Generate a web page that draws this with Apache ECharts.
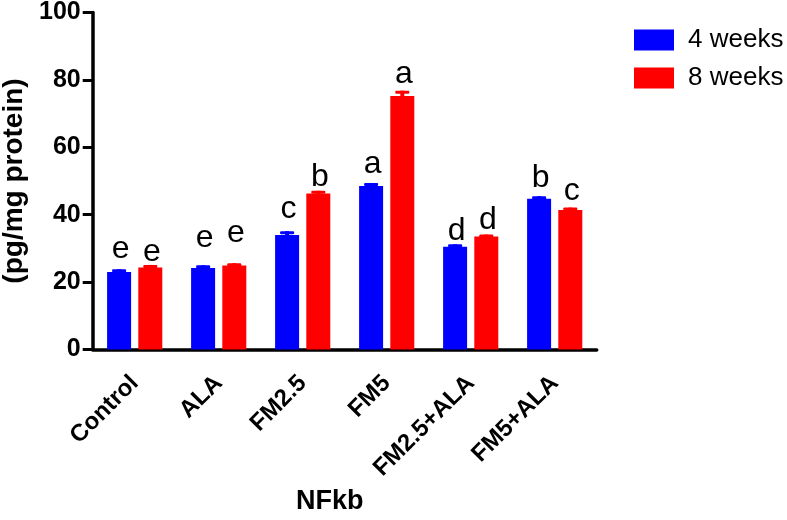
<!DOCTYPE html>
<html><head><meta charset="utf-8">
<script src="https://cdn.jsdelivr.net/npm/echarts@6/dist/echarts.min.js"></script>
<style>html,body{margin:0;padding:0;background:#fff}#c{width:787px;height:520px}</style>
</head><body><div id="c"></div>
<script>
const categories = ['Control', 'ALA', 'FM2.5', 'FM5', 'FM2.5+ALA', 'FM5+ALA'];
const weeks4 = [23.0, 24.2, 34.0, 48.5, 30.5, 44.7];
const weeks4Err = [0.8, 0.8, 1.1, 0.9, 0.7, 0.8];
const weeks8 = [24.3, 24.9, 46.3, 75.2, 33.5, 41.4];
const weeks8Err = [0.8, 0.7, 0.8, 1.6, 0.6, 0.7];
const letters4 = ['e', 'e', 'c', 'a', 'd', 'b'];
const letters8 = ['e', 'e', 'b', 'a', 'd', 'c'];
const letterPos4 = [27.1, 30.5, 38.9, 52.3, 32.5, 48.3];
const letterPos8 = [26.1, 31.7, 48.5, 79.0, 35.7, 44.4];
const yTicks = [0, 20, 40, 60, 80, 100];

const FONT = 'Liberation Sans, Arial, Helvetica, sans-serif';
const BAR_W = 24, BAR_GAP = 7.2;
const BLUE = '#0000ff', RED = '#ff0000';

function errSeries(name, means, errs, letters, lpos, color, sign) {
  return {
    name: name, type: 'custom', z: 5,
    data: means.map((m, i) => [i, m, errs[i], lpos[i]]),
    renderItem: function (params, api) {
      const i = api.value(0), m = api.value(1), e = api.value(2), lp = api.value(3);
      const off = sign * (BAR_W / 2 + BAR_GAP / 2);
      const p0 = api.coord([i, m]);
      const p1 = api.coord([i, m + e]);
      const pl = api.coord([i, lp]);
      const x = p0[0] + off;
      const L = letters[params.dataIndex];
      return {
        type: 'group',
        children: [
          { type: 'rect', shape: { x: x - 2, y: p1[1], width: 4, height: p0[1] - p1[1] + 1 }, style: { fill: color } },
          { type: 'rect', shape: { x: x - 7, y: p1[1], width: 14, height: 3, r: 1 }, style: { fill: color } },
          { type: 'text', style: { text: L, x: x + 1.5, y: pl[1] + 7, fill: '#000', fontSize: 32, fontFamily: FONT, align: 'center', verticalAlign: 'bottom' } }
        ]
      };
    }
  };
}

const chart = echarts.init(document.getElementById('c'), null, { renderer: 'canvas' });
chart.setOption({
  backgroundColor: '#fff',
  animation: false,
  grid: { left: 92.7, right: 190.3, top: 12.5, bottom: 170.5, containLabel: false, outerBoundsMode: 'none' },
  legend: {
    data: ['4 weeks', '8 weeks'], orient: 'vertical', left: 629, top: 22,
    itemWidth: 40, itemHeight: 21, itemGap: 12, icon: 'rect',
    textStyle: { fontSize: 26, color: '#000', fontFamily: FONT, padding: [0, 0, 0, 9] }
  },
  xAxis: {
    type: 'category', data: categories,
    axisLine: { lineStyle: { color: '#000', width: 3.5 } },
    axisTick: { alignWithLabel: true, length: 9, lineStyle: { color: '#000', width: 3 } },
    axisLabel: { rotate: 45, margin: 30, color: '#000', fontSize: 24, fontWeight: 'bold', fontFamily: FONT, interval: 0 }
  },
  yAxis: {
    type: 'value', min: 0, max: 100, interval: 20,
    name: '(pg/mg protein)', nameLocation: 'middle', nameGap: 62, nameRotate: 90,
    nameTextStyle: { fontSize: 28, fontWeight: 'bold', color: '#000', fontFamily: FONT },
    splitLine: { show: false },
    axisLine: { show: true, lineStyle: { color: '#000', width: 3.5 } },
    axisTick: { show: true, length: 10, lineStyle: { color: '#000', width: 3 } },
    axisLabel: { margin: 12, color: '#000', fontSize: 25, fontWeight: 'bold', fontFamily: FONT,
      formatter: v => yTicks.indexOf(v) >= 0 ? String(v) : '' }
  },
  graphic: [
    { type: 'text', left: 296, top: 488, style: { text: 'NFkb', fill: '#000', font: 'bold 27px ' + FONT } }
  ],
  series: [
    { name: '4 weeks', type: 'bar', data: weeks4, barWidth: BAR_W, barGap: (BAR_GAP / BAR_W * 100) + '%', itemStyle: { color: BLUE } },
    { name: '8 weeks', type: 'bar', data: weeks8, barWidth: BAR_W, itemStyle: { color: RED } },
    errSeries('err4', weeks4, weeks4Err, letters4, letterPos4, BLUE, -1),
    errSeries('err8', weeks8, weeks8Err, letters8, letterPos8, RED, 1)
  ]
});
</script></body></html>
